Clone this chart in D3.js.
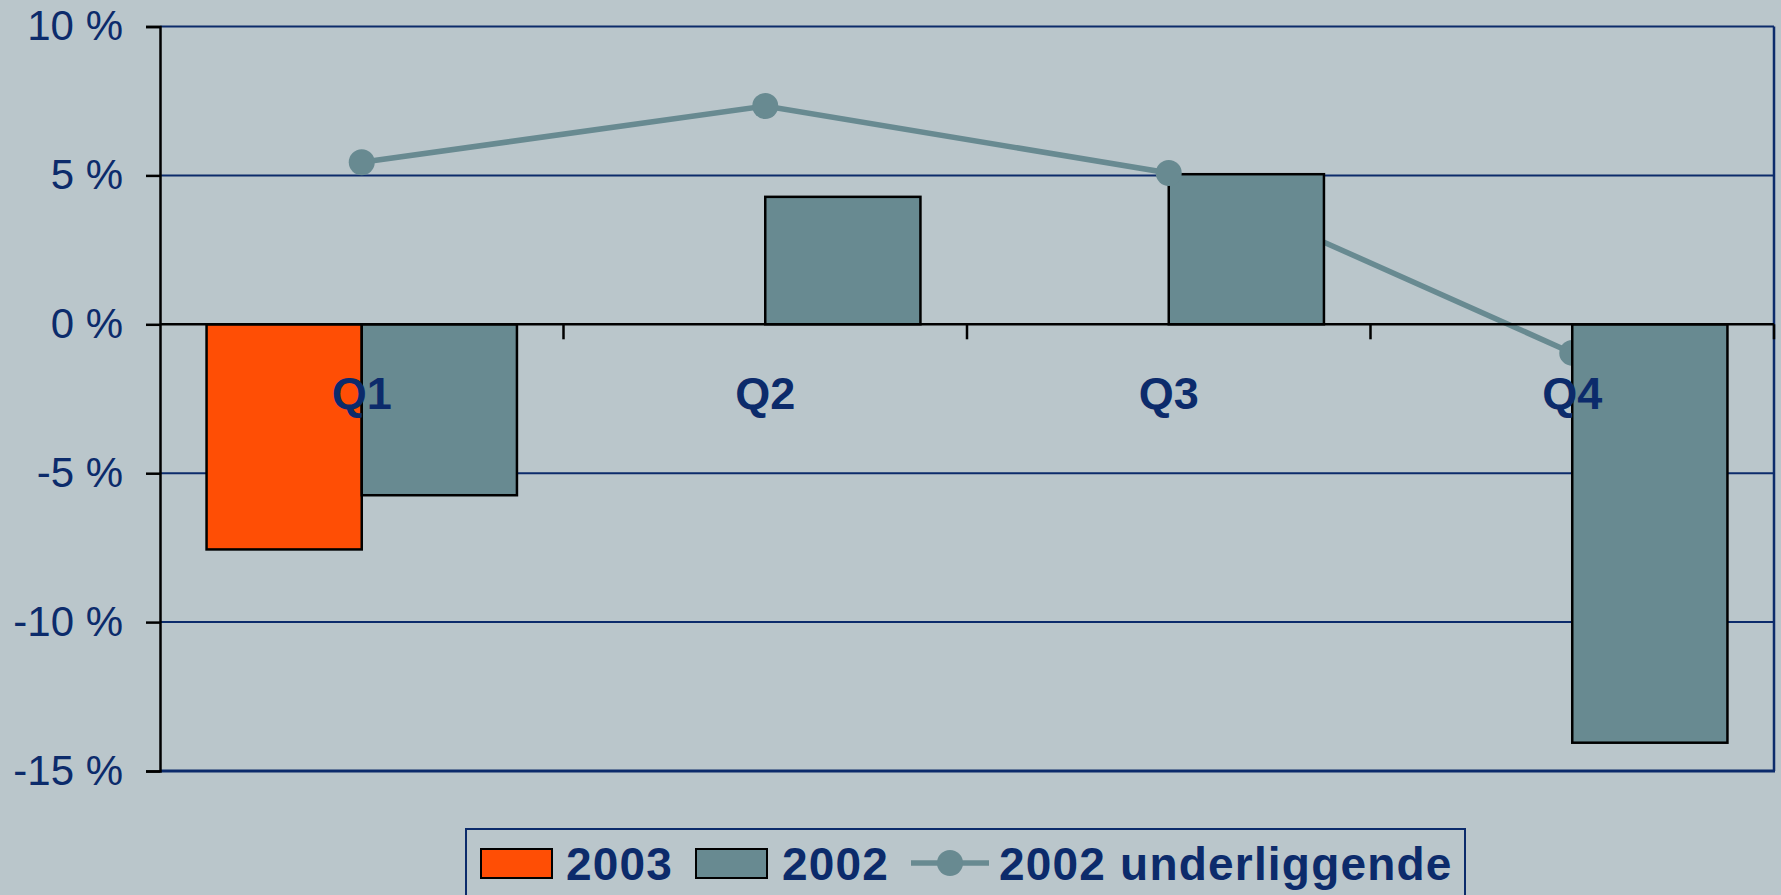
<!DOCTYPE html>
<html>
<head>
<meta charset="utf-8">
<script src="https://cdn.jsdelivr.net/npm/d3@7"></script>
<style>
  body { margin: 0; background: #bac6cb; }
  svg { display: block; }
</style>
</head>
<body>
<script>
const quarters = ['Q1', 'Q2', 'Q3', 'Q4']
const seriesNames = ['2003', '2002']
const values2003 = [-7.56, null, null, null]
const values2002 = [-5.74, 4.28, 5.04, -14.05]
const underlying2002 = [5.44, 7.33, 5.08, -0.96]
const yTicks = [-15, -10, -5, 0, 5, 10]
const legendLabels = ['2003', '2002', '2002 underliggende']

const W = 1781, H = 895
const navy = '#0c2b6b'
const colors = { '2003': '#ff4e05', '2002': '#688a91' }
const lineColor = '#688a91'

let svg = d3.select('body')
  .append('svg')
  .attr('width', W)
  .attr('height', H)

svg.append('rect')
  .attr('width', W)
  .attr('height', H)
  .attr('fill', '#bac6cb')

let plotL = 160, plotR = 1774, plotT = 26.5, plotB = 771

let x = d3.scaleBand().domain(quarters).range([plotL, plotR])
let xSub = d3.scaleBand().domain(seriesNames).range([0, x.bandwidth()]).paddingOuter(0.3)
let y = d3.scaleLinear().domain([-15, 10]).range([plotB, plotT])

// gridlines
svg.append('g')
  .selectAll('line')
  .data(yTicks.filter(t => t != 0 && t != -15))
  .join('line')
  .attr('x1', plotL).attr('x2', plotR)
  .attr('y1', d => y(d)).attr('y2', d => y(d))
  .attr('stroke', navy)
  .attr('stroke-width', 2)

// plot border right and bottom
svg.append('line')
  .attr('x1', plotR).attr('x2', plotR)
  .attr('y1', y(10)).attr('y2', y(-15))
  .attr('stroke', navy).attr('stroke-width', 2.5)
svg.append('line')
  .attr('x1', plotL).attr('x2', plotR + 1)
  .attr('y1', y(-15)).attr('y2', y(-15))
  .attr('stroke', navy).attr('stroke-width', 3)

// line series (behind the bars)
let pts = quarters.map((q, i) => ({ q, v: underlying2002[i] }))
let line = d3.line()
  .x(d => x(d.q) + x.bandwidth() / 2)
  .y(d => y(d.v))

svg.append('path')
  .datum(pts)
  .attr('d', line)
  .attr('fill', 'none')
  .attr('stroke', lineColor)
  .attr('stroke-width', 5.5)

let markerAdd = (g, data) => {
  g.selectAll('circle')
    .data(data)
    .join('circle')
    .attr('cx', d => x(d.q) + x.bandwidth() / 2)
    .attr('cy', d => y(d.v))
    .attr('r', 13)
    .attr('fill', lineColor)
}
markerAdd(svg.append('g'), pts.filter(d => d.v < 0))

// bars
let barData = []
quarters.forEach((q, i) => {
  if (values2003[i] != null) barData.push({ q, s: '2003', v: values2003[i] })
  if (values2002[i] != null) barData.push({ q, s: '2002', v: values2002[i] })
})

svg.append('g')
  .selectAll('rect')
  .data(barData)
  .join('rect')
  .attr('x', d => x(d.q) + xSub(d.s))
  .attr('width', xSub.bandwidth())
  .attr('y', d => y(Math.max(0, d.v)))
  .attr('height', d => Math.abs(y(d.v) - y(0)))
  .attr('fill', d => colors[d.s])
  .attr('stroke', '#000')
  .attr('stroke-width', 2.5)

markerAdd(svg.append('g'), pts.filter(d => d.v >= 0))

// zero line with category ticks
svg.append('line')
  .attr('x1', plotL).attr('x2', plotR)
  .attr('y1', y(0)).attr('y2', y(0))
  .attr('stroke', '#000').attr('stroke-width', 2.5)
svg.append('g')
  .selectAll('line')
  .data(quarters)
  .join('line')
  .attr('x1', d => x(d) + x.bandwidth()).attr('x2', d => x(d) + x.bandwidth())
  .attr('y1', y(0)).attr('y2', y(0) + 15)
  .attr('stroke', '#000').attr('stroke-width', 2.5)

// y axis
let yAxis = svg.append('g')
  .attr('transform', `translate(${plotL},0)`)
  .call(d3.axisLeft(y).tickValues(yTicks).tickFormat(d => d + ' %').tickSize(14).tickPadding(23))
yAxis.select('.domain').attr('stroke', '#000').attr('stroke-width', 2.5)
yAxis.selectAll('.tick line').attr('stroke', '#000').attr('stroke-width', 2.5)
yAxis.selectAll('.tick text')
  .attr('fill', navy)
  .attr('font-family', 'Liberation Sans, Arial, sans-serif')
  .attr('font-size', 42)

// category labels
svg.append('g')
  .selectAll('text')
  .data(quarters)
  .join('text')
  .attr('x', d => x(d) + x.bandwidth() / 2)
  .attr('y', 409)
  .attr('text-anchor', 'middle')
  .attr('font-family', 'Liberation Sans, Arial, sans-serif')
  .attr('font-weight', 'bold')
  .attr('font-size', 45)
  .attr('fill', navy)
  .text(d => d)

// legend
let legend = svg.append('g')
legend.append('rect')
  .attr('x', 466).attr('y', 829)
  .attr('width', 999).attr('height', 120)
  .attr('fill', 'none')
  .attr('stroke', navy)
  .attr('stroke-width', 2)

let legendX = [481, 696, 911]
let textX = [566, 782, 999]
legendLabels.forEach((lab, i) => {
  if (i < 2) {
    legend.append('rect')
      .attr('x', legendX[i]).attr('y', 849)
      .attr('width', 71).attr('height', 29)
      .attr('fill', colors[seriesNames[i]])
      .attr('stroke', '#000')
      .attr('stroke-width', 2)
  } else {
    legend.append('line')
      .attr('x1', legendX[i]).attr('x2', legendX[i] + 78)
      .attr('y1', 863).attr('y2', 863)
      .attr('stroke', lineColor).attr('stroke-width', 5.5)
    legend.append('circle')
      .attr('cx', legendX[i] + 39).attr('cy', 863)
      .attr('r', 13).attr('fill', lineColor)
  }
  legend.append('text')
    .attr('x', textX[i]).attr('y', 880)
    .attr('font-family', 'Liberation Sans, Arial, sans-serif')
    .attr('font-weight', 'bold')
    .attr('font-size', 46)
    .attr('letter-spacing', 1.2)
    .attr('fill', navy)
    .text(lab)
})
</script>
</body>
</html>
